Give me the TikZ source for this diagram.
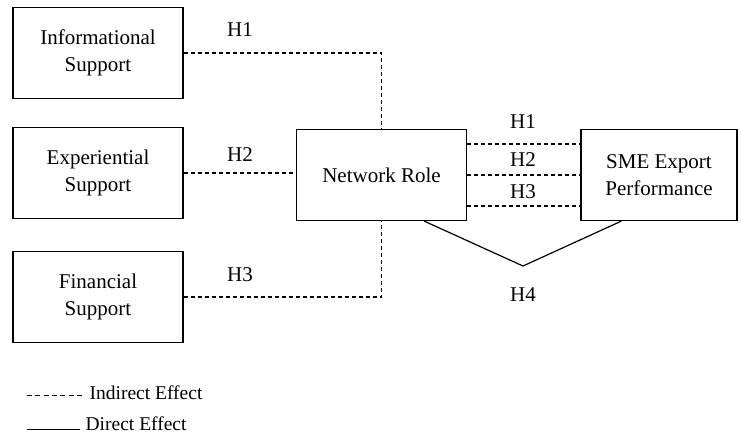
\documentclass[tikz,border=0pt]{standalone}
\usepackage{fontspec}
\setmainfont{Liberation Serif}
\usetikzlibrary{positioning,calc}
\tikzset{
  every picture/.append style={line width=1.3pt},
  every node/.append style={font=\fontsize{21}{27}\selectfont},
}
\tikzset{
  box/.style={draw, align=center, minimum width=170pt, minimum height=91pt, inner sep=0pt},
  indirect/.style={dashed, dash pattern=on 4pt off 3pt, line width=1.2pt},
  direct/.style={line width=1.2pt},
  hlabel/.style={inner sep=0pt}
}

\begin{document}
\begin{tikzpicture}[
  x=1pt, y=-1pt,
  legend/.style={font=\fontsize{19.5}{22}\selectfont, anchor=west, inner sep=0pt}
]

% --- Canvas ---
\useasboundingbox (0,0) rectangle (741,437);

% --- Support constructs (left column) ---
\node[box] (info) at (98,53) {Informational\\Support};
\node[box] (exp) at (98,173) {Experiential\\Support};
\node[box] (fin) at (98,297) {Financial\\Support};

% --- Mediator and outcome ---
\node[box] (net) at (381.5,175) {Network Role};
\node[box, minimum width=156pt] (sme) at (659,175) {SME Export\\Performance};

% --- Indirect paths into Network Role ---
\draw[indirect] (info.east) -| (net.north);
\draw[indirect] (exp.east) -- (exp.east -| net.west);
\draw[indirect] (fin.east) -| (net.south);
\node[hlabel] (h1l) at (240,30) {H1};
\node[hlabel] (h2l) at (240,155) {H2};
\node[hlabel] (h3l) at (240,275) {H3};

% --- Indirect paths into SME Export Performance ---
\draw[indirect] ([yshift=31pt]net.east) -- ([yshift=31pt]net.east -| sme.west);
\draw[indirect] (net.east) -- (net.east -| sme.west);
\draw[indirect] ([yshift=-31pt]net.east) -- ([yshift=-31pt]net.east -| sme.west);
\node[hlabel] (h1r) at (523,122) {H1};
\node[hlabel] (h2r) at (523,160) {H2};
\node[hlabel] (h3r) at (523,192) {H3};

% --- Direct path (V shape) ---
\coordinate (vtip) at (523,266);
\draw[direct] ($(net.south)!0.5!(net.south east)$) -- (vtip)
  -- ($(sme.south west)!0.26!(sme.south east)$);
\node[hlabel] (h4) at (523,295) {H4};

% --- Legend ---
\coordinate (ind0) at (27,395);
\coordinate (ind1) at (85,395);
\coordinate (dir0) at (27,429);
\coordinate (dir1) at (80,429);
\draw[indirect, line width=1pt, dash pattern=on 5pt off 3.3pt] (ind0) -- (ind1);
\node[legend] (indtxt) at (89,393) {Indirect Effect};
\draw[direct, line width=1pt] (dir0) -- (dir1);
\node[legend] (dirtxt) at (85,424) {Direct Effect};

\end{tikzpicture}
\end{document}
